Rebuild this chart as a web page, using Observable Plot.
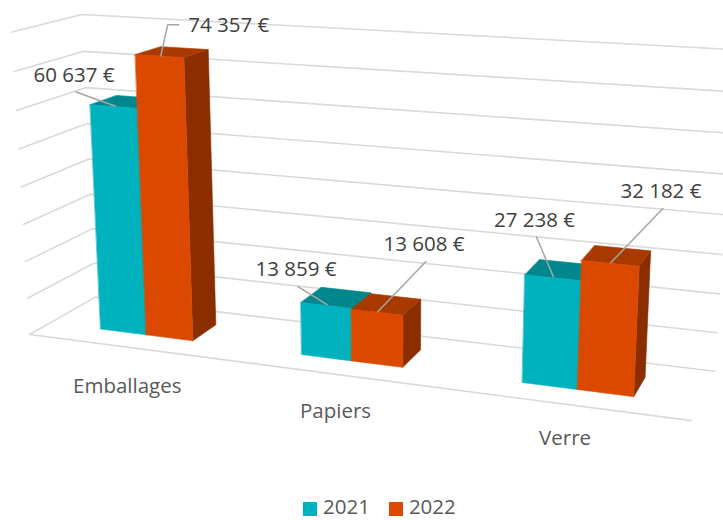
<!DOCTYPE html>
<html><head><meta charset="utf-8">
<script src="https://cdn.jsdelivr.net/npm/d3@7"></script>
<script src="https://cdn.jsdelivr.net/npm/@observablehq/plot@0.6"></script>
<style>
body{margin:0;background:#fff;font-family:"Open Sans",sans-serif;overflow:hidden;}
#legend{height:28px;display:flex;align-items:center;padding-left:303px;box-sizing:border-box;font-size:20.5px;line-height:28px;color:#595959;}
#legend .sw{width:14px;height:14px;margin:5px 6px 0 0;display:inline-block}
#legend .it{display:flex;align-items:center;margin-right:19px}
</style></head><body>
<div id="chart"></div><div id="legend"></div>
<script>
// ---- data ----
const categories = ["Emballages", "Papiers", "Verre"];
const seriesNames = ["2021", "2022"];
const values2021 = [60637, 13859, 27238];
const values2022 = [74357, 13608, 32182];
const yTicks = [0, 10000, 20000, 30000, 40000, 50000, 60000, 70000, 80000];

// ---- layout / style ----
const W = 723, H = 492;
const yMax = 80000;
const pair = 0.47, wFront = 0.3, wBack = 0.7;   // bar pair share of a category, bar depth band
const colors = {
  "2021": {front: "#00B2BE", top: "#00878E", side: "#006C72"},
  "2022": {front: "#DB4900", top: "#A83A00", side: "#8A2E00"}
};
const labelLayout = [
  [{dx: -41, dy: -31, elbow: false}, {dx: 68, dy: -30, elbow: true}],
  [{dx: -31, dy: -35, elbow: false}, {dx: 46, dy: -67, elbow: false}],
  [{dx: -19, dy: -57, elbow: false}, {dx: 50, dy: -71, elbow: false}]
];
const catLabelOffset = [[0, 39], [-1, 37], [-2, 34]];

// perspective view of the 3-D plot box (u across, v up, w depth)
const camera = [
  568.000, -18.2854, 72.5091, 29.2685,
  29.1968, -303.882, -15.6366, 333.948,
  -0.135571, -0.0478810, 0.0730142
];
function proj(u, v, w) {
  const m = camera;
  const d = m[8] * u + m[9] * v + m[10] * w + 1;
  return [(m[0] * u + m[1] * v + m[2] * w + m[3]) / d, (m[4] * u + m[5] * v + m[6] * w + m[7]) / d];
}
const bw = pair / 6;
const uc = i => (i + 0.5) / categories.length;

// ---- build geometry from data ----
const grid = [];
yTicks.forEach(t => {
  const v = t / yMax;
  [[0, v, 0], [0, v, 1], [1, v, 1]].forEach(p => { const [x, y] = proj(...p); grid.push({x, y, id: "g" + t}); });
});
[[0, 0, 0], [1, 0, 0]].forEach(p => { const [x, y] = proj(...p); grid.push({x, y, id: "axis"}); });

const faces = [], labels = [], leaders = [];
const fr = d3.formatLocale({decimal: ",", thousands: "\u00a0", grouping: [3], currency: ["", "\u00a0€"]}).format("$,.0f");
categories.forEach((cat, i) => {
  [values2021[i], values2022[i]].forEach((val, s) => {
    const name = seriesNames[s], c = colors[name];
    const u0 = s === 0 ? uc(i) - bw : uc(i), u1 = u0 + bw, v = val / yMax;
    const polys = [
      ["side", [[u1, 0, wFront], [u1, 0, wBack], [u1, v, wBack], [u1, v, wFront]]],
      ["top", [[u0, v, wFront], [u1, v, wFront], [u1, v, wBack], [u0, v, wBack]]],
      ["front", [[u0, 0, wFront], [u1, 0, wFront], [u1, v, wFront], [u0, v, wFront]]]
    ];
    polys.forEach(([k, pts]) => pts.forEach(p => {
      const [x, y] = proj(...p);
      faces.push({x, y, id: `${cat}-${name}-${k}`, color: c[k]});
    }));
    const [ex, ey] = proj((u0 + u1) / 2, v, wFront + 0.02);
    const L = labelLayout[i][s];
    const cx = ex + L.dx, cy = ey + L.dy;
    labels.push({x: cx, y: cy, text: fr(val)});
    const id = `${cat}-${name}`;
    const pts = L.elbow ? [[cx - 50, cy - 1], [cx - 61, cy - 1], [ex, ey]] : [[cx + 2, cy + 17], [ex, ey]];
    pts.forEach(([x, y]) => leaders.push({x, y, id}));
  });
});
const catLabels = categories.map((cat, i) => {
  const [x, y] = proj(uc(i), 0, 0);
  return {x: x + catLabelOffset[i][0], y: y + catLabelOffset[i][1], text: cat};
});

const chart = Plot.plot({
  width: W, height: H, margin: 0,
  x: {domain: [0, W], range: [0, W], axis: null},
  y: {domain: [0, H], range: [0, H], axis: null},
  style: {fontFamily: "'Open Sans', sans-serif", background: "#fff"},
  marks: [
    Plot.line(grid, {x: "x", y: "y", z: "id", stroke: "#D9D9D9", strokeWidth: 1.6}),
    Plot.line(faces, {x: "x", y: "y", z: "id", fill: "color", stroke: "color", strokeWidth: 0.6, curve: "linear-closed"}),
    Plot.line(leaders, {x: "x", y: "y", z: "id", stroke: "#A6A6A6", strokeWidth: 1.5}),
    Plot.text(labels, {x: "x", y: "y", text: "text", fontSize: 20.5, fill: "#404040"}),
    Plot.text(catLabels, {x: "x", y: "y", text: "text", fontSize: 20.5, fill: "#595959"})
  ]
});
document.getElementById("chart").append(chart);

const lg = document.getElementById("legend");
seriesNames.forEach(n => {
  const it = document.createElement("span"); it.className = "it";
  const sw = document.createElement("span"); sw.className = "sw"; sw.style.background = colors[n].front;
  it.append(sw, document.createTextNode(n)); lg.append(it);
});
</script></body></html>
